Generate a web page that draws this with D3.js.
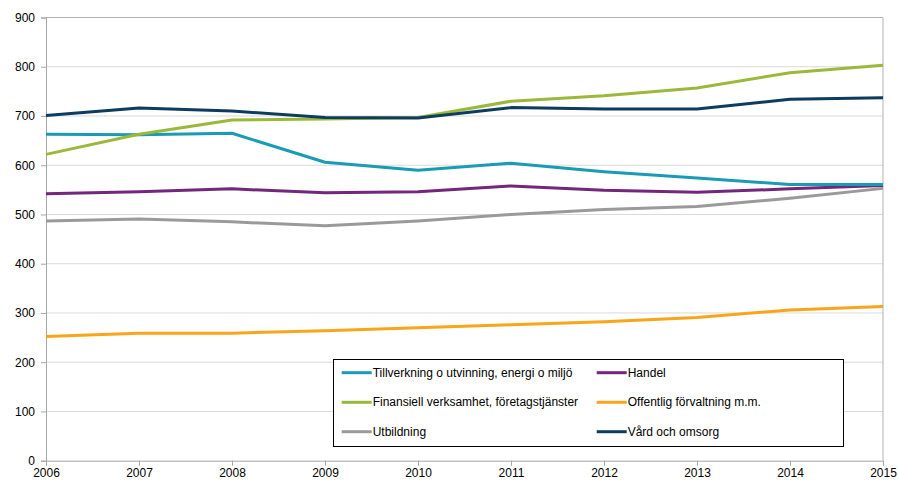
<!DOCTYPE html>
<html><head><meta charset="utf-8">
<script src="https://cdn.jsdelivr.net/npm/d3@7"></script>
<style>body{margin:0;background:#fff}svg{display:block;font-family:"Liberation Sans",Arial,sans-serif}</style>
</head><body><svg id="c" width="898" height="480"></svg>
<script>
const years = [2006,2007,2008,2009,2010,2011,2012,2013,2014,2015];
const yTicks = [0,100,200,300,400,500,600,700,800,900];
const tillverkning = [663,662,665,606,590,604,587,574,561,561];
const handel = [542,546,552,544,546,558,549,545,552,559];
const finansiell = [622,663,692,694,697,730,741,757,788,803];
const offentlig = [252,259,259,264,270,276,282,291,306,313];
const utbildning = [487,491,485,477,487,500,510,516,533,553];
const vard = [701,716,710,697,696,717,714,714,734,737];
const seriesNames = ["Tillverkning o utvinning, energi o miljö","Handel","Finansiell verksamhet, företagstjänster","Offentlig förvaltning m.m.","Utbildning","Vård och omsorg"];
const seriesValues = [tillverkning,handel,finansiell,offentlig,utbildning,vard];
const colors = ["#1a9bb5","#74267d","#9ab93a","#f9a51a","#9a9a9a","#0d3c5e"];
const drawOrder = [4,3,1,0,2,5];

const svg = d3.select("#c");
const L=46,R=883,T=17.5,B=460.7;
const x = d3.scaleLinear().domain([2006,2015]).range([L,R]);
const y = d3.scaleLinear().domain([0,900]).range([B,T]);

svg.append("g").selectAll("line").data(yTicks.filter(d=>d>0&&d<900)).join("line")
  .attr("x1",L).attr("x2",R).attr("y1",d=>y(d)).attr("y2",d=>y(d))
  .attr("stroke","#d9d9d9").attr("stroke-width",1);
svg.append("line").attr("x1",L).attr("x2",R).attr("y1",y(900)).attr("y2",y(900)).attr("stroke","#b3b3b3");
svg.append("line").attr("x1",R).attr("x2",R).attr("y1",y(900)).attr("y2",B).attr("stroke","#b3b3b3");

const yAxis = svg.append("g").attr("transform",`translate(${L},0)`)
  .call(d3.axisLeft(y).tickValues(yTicks).tickSize(5).tickPadding(6).tickFormat(d3.format("d")));
const xAxis = svg.append("g").attr("transform",`translate(0,${B})`)
  .call(d3.axisBottom(x).tickValues(years).tickSize(5).tickPadding(3).tickFormat(d3.format("d")));
[yAxis,xAxis].forEach(a=>{
  a.select(".domain").attr("stroke","#a6a6a6");
  a.selectAll(".tick line").attr("stroke","#a6a6a6");
  a.selectAll("text").attr("fill","#000").style("font-size","12px").style("font-family","'Liberation Sans',Arial,sans-serif");
});

const line = d3.line().x((d,i)=>x(years[i])).y(d=>y(d));
svg.append("g").selectAll("path").data(drawOrder).join("path")
  .attr("d",i=>line(seriesValues[i])).attr("fill","none")
  .attr("stroke",i=>colors[i]).attr("stroke-width",3).attr("stroke-linejoin","round");

const lg = svg.append("g");
lg.append("rect").attr("x",333.5).attr("y",359.5).attr("width",510).attr("height",87)
  .attr("fill","#fff").attr("stroke","#000").attr("stroke-width",1);
const rowsY=[372.7,402.3,431.7], colX=[341.7,596.7];
seriesNames.forEach((n,i)=>{
  const cx=colX[i%2], cy=rowsY[Math.floor(i/2)];
  lg.append("line").attr("x1",cx).attr("x2",cx+30).attr("y1",cy).attr("y2",cy)
    .attr("stroke",colors[i]).attr("stroke-width",3);
  lg.append("text").attr("x",cx+31).attr("y",cy+4).text(n)
    .style("font-size","12px").attr("fill","#000");
});
</script></body></html>
